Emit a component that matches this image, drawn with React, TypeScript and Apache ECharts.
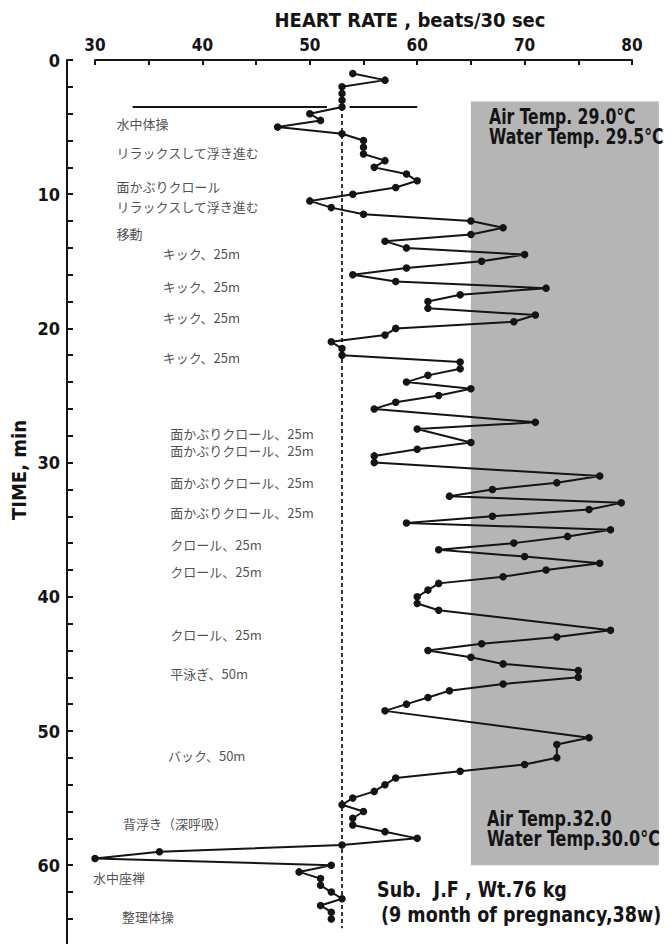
import React, { useEffect, useRef } from "react";
import * as echarts from "echarts";

// ---- data (heart rate in beats/30 sec vs. elapsed time in min) ----
const times = [
  1, 1.5, 2, 2.5, 3, 3.5, 4, 4.5, 5, 5.5, 6, 6.5, 7, 7.5, 8, 8.5, 9, 9.5, 10, 10.5,
  11, 11.5, 12, 12.5, 13, 13.5, 14, 14.5, 15, 15.5, 16, 16.5, 17, 17.5, 18, 18.5, 19, 19.5, 20, 20.5,
  21, 21.5, 22, 22.5, 23, 23.5, 24, 24.5, 25, 25.5, 26, 27, 27.5, 28.5, 29, 29.5, 30, 31, 31.5, 32,
  32.5, 33, 33.5, 34, 34.5, 35, 35.5, 36, 36.5, 37, 37.5, 38, 38.5, 39, 39.5, 40, 40.5, 41, 42.5, 43,
  43.5, 44, 44.5, 45, 45.5, 46, 46.5, 47, 47.5, 48, 48.5, 50.5, 51, 52, 52.5, 53, 53.5, 54, 54.5, 55,
  55.5, 56, 56.5, 57, 57.5, 58, 58.5, 59, 59.5, 60, 60.5, 61, 61.5, 62, 62.5, 63, 63.5, 64,
];
const heartRate = [
  54, 57, 53, 53, 53, 53, 50, 51, 47, 53, 55, 55, 55, 57, 56, 59, 60, 58, 54, 50,
  52, 55, 65, 68, 65, 57, 59, 70, 66, 59, 54, 58, 72, 64, 61, 61, 71, 69, 58, 57,
  52, 53, 53, 64, 64, 61, 59, 65, 62, 58, 56, 71, 60, 65, 60, 56, 56, 77, 73, 67,
  63, 79, 76, 67, 59, 78, 74, 69, 62, 70, 77, 72, 68, 62, 61, 60, 60, 62, 78, 73,
  66, 61, 65, 68, 75, 75, 68, 63, 61, 59, 57, 76, 73, 73, 70, 64, 58, 57, 56, 54,
  53, 55, 54, 54, 57, 60, 53, 36, 30, 52, 49, 51, 51, 52, 53, 51, 52, 52,
];

// resting reference level (dashed) and its time span
const restLevel = 53;
const restSpan = [3.5, 64.7];
// line marking entry into the water
const entryTime = 3.5;
const entrySegments = [
  [33.5, 51.6],
  [53.7, 60],
];
// shaded region: [hr from, time from, hr to, time to]
const shaded = [[65, 3.1, 82.5, 60]];

// activity annotations
const activities = [
  "水中体操",
  "リラックスして浮き進む",
  "面かぶりクロール",
  "リラックスして浮き進む",
  "移動",
  "キック、25m",
  "キック、25m",
  "キック、25m",
  "キック、25m",
  "面かぶりクロール、25m",
  "面かぶりクロール、25m",
  "面かぶりクロール、25m",
  "面かぶりクロール、25m",
  "クロール、25m",
  "クロール、25m",
  "クロール、25m",
  "平泳ぎ、50m",
  "バック、50m",
  "背浮き（深呼吸）",
  "水中座禅",
  "整理体操",
];
const activityTimes = [
  4.7, 6.9, 9.45, 10.95, 12.9, 14.45, 16.9, 19.2, 22.2, 27.8, 29.1, 31.5, 33.7, 36.1, 38.1,
  42.8, 45.75, 51.8, 56.9, 60.9, 63.8,
];
const activityAnchorHR = [
  32, 32, 32, 32, 32, 36.3, 36.3, 36.3, 36.3, 37, 37, 37, 37, 37, 37, 37, 37, 36.8, 32.6, 29.8,
  32.5,
];

const xTitle = "HEART RATE , beats/30 sec";
const yTitle = "TIME, min";
const conditions1 = ["Air Temp. 29.0°C", "Water Temp. 29.5°C"];
const conditions2 = ["Air Temp.32.0", "Water Temp.30.0°C"];
const subject = ["Sub.  J.F , Wt.76 kg", "(9 month of pregnancy,38w)"];

const X_MIN = 30;
const X_MAX = 80;
const Y_MIN = 0;
const Y_MAX = 66;

const NUM_FONT = "'DejaVu Sans Condensed', 'Liberation Sans Narrow', 'Liberation Sans', sans-serif";
const TXT_FONT = "'DejaVu Sans Condensed', 'Liberation Sans Narrow', 'Liberation Sans', sans-serif";
const JP_FONT = "'Noto Sans CJK JP', sans-serif";
const INK = "#141414";

export default function App() {
  const ref = useRef<HTMLDivElement>(null);

  useEffect(() => {
    document.body.style.margin = "0";
    const chart = echarts.init(ref.current!, undefined, { renderer: "svg" });

    const hrData = times.map((t, i) => [heartRate[i], t]);

    const boldText = (text: string, x: number, y: number, size: number, sx: number) => ({
      type: "text",
      x,
      y,
      z: 100,
      scaleX: sx,
      style: {
        text,
        fontSize: size,
        fontWeight: "bold",
        fontFamily: TXT_FONT,
        fill: INK,
        align: "left",
        verticalAlign: "middle",
      },
    });

    const option: any = {
      animation: false,
      backgroundColor: "#ffffff",
      grid: {
        left: 95,
        top: 60,
        width: 537,
        height: (Y_MAX - Y_MIN) * 13.42,
        containLabel: false,
        outerBoundsMode: "none",
      },
      xAxis: {
        type: "value",
        position: "top",
        min: X_MIN,
        max: X_MAX,
        interval: 5,
        axisLine: { show: true, onZero: false, lineStyle: { color: INK, width: 2 } },
        axisTick: { show: true, inside: true, length: 5, lineStyle: { color: INK, width: 2 } },
        axisLabel: {
          margin: 7,
          fontSize: 17,
          fontWeight: "bold",
          fontFamily: NUM_FONT,
          color: INK,
          formatter: (v: number) => (v % 10 === 0 ? String(v) : ""),
        },
        splitLine: { show: false },
      },
      yAxis: {
        type: "value",
        inverse: true,
        min: Y_MIN,
        max: Y_MAX,
        interval: 2,
        offset: 28,
        axisLine: { show: true, onZero: false, lineStyle: { color: INK, width: 2 } },
        axisTick: { show: true, inside: true, length: 6, lineStyle: { color: INK, width: 2 } },
        axisLabel: {
          margin: 7,
          fontSize: 18,
          fontWeight: "bold",
          fontFamily: NUM_FONT,
          color: INK,
          formatter: (v: number) => (v % 10 === 0 && v <= 60 ? String(v) : ""),
        },
        splitLine: { show: false },
      },
      series: [
        {
          type: "custom",
          clip: false,
          z: 0,
          silent: true,
          data: shaded,
          encode: { x: [0, 2], y: [1, 3] },
          renderItem: (params: any, api: any) => {
            const p1 = api.coord([api.value(0), api.value(1)]);
            const p2 = api.coord([api.value(2), api.value(3)]);
            return {
              type: "rect",
              shape: { x: p1[0], y: p1[1], width: p2[0] - p1[0], height: p2[1] - p1[1] },
              style: { fill: "#b5b5b5" },
            };
          },
        },
        ...entrySegments.map((seg) => ({
          type: "line",
          z: 2,
          symbol: "none",
          silent: true,
          data: [
            [seg[0], entryTime],
            [seg[1], entryTime],
          ],
          lineStyle: { color: INK, width: 2 },
        })),
        {
          type: "line",
          z: 2,
          symbol: "none",
          silent: true,
          data: [
            [restLevel, restSpan[0]],
            [restLevel, restSpan[1]],
          ],
          lineStyle: { color: INK, width: 1.7, type: [4, 3] },
        },
        {
          type: "line",
          z: 3,
          data: hrData,
          symbol: "circle",
          symbolSize: 7.5,
          itemStyle: { color: INK },
          lineStyle: { color: INK, width: 2 },
        },
        {
          type: "scatter",
          z: 4,
          clip: false,
          silent: true,
          symbolSize: 0.1,
          itemStyle: { color: "rgba(0,0,0,0)" },
          data: activities.map((name, i) => ({ name, value: [activityAnchorHR[i], activityTimes[i]] })),
          label: {
            show: true,
            position: "right",
            distance: 0,
            formatter: "{b}",
            fontSize: 13,
            fontFamily: JP_FONT,
            color: "#222",
          },
        },
      ],
      graphic: [
        {
          type: "text",
          x: 410,
          y: 20,
          z: 100,
          style: {
            text: xTitle,
            fontSize: 20,
            fontWeight: "bold",
            fontFamily: TXT_FONT,
            fill: INK,
            align: "center",
            verticalAlign: "middle",
          },
        },
        {
          type: "text",
          x: 19,
          y: 470,
          z: 100,
          rotation: Math.PI / 2,
          style: {
            text: yTitle,
            fontSize: 20,
            fontWeight: "bold",
            fontFamily: TXT_FONT,
            fill: INK,
            align: "center",
            verticalAlign: "middle",
          },
        },
        ...conditions1.map((t, i) => boldText(t, 489, 117 + i * 20, 21, 0.83)),
        ...conditions2.map((t, i) => boldText(t, 487, 819 + i * 20, 21, 0.85)),
        ...subject.map((t, i) => boldText(t, i === 0 ? 377 : 381, 890 + i * 25, 21, 0.93)),
      ],
    };

    chart.setOption(option);
    return () => chart.dispose();
  }, []);

  return (
    <div
      ref={ref}
      style={{ position: "absolute", left: 0, top: 0, width: 672, height: 944, background: "#fff" }}
    />
  );
}
